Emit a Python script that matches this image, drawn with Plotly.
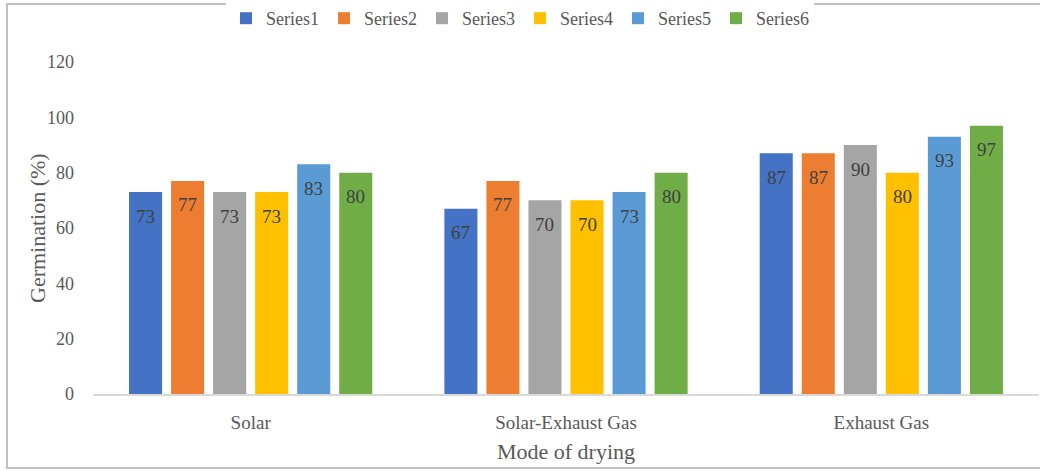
import plotly.graph_objects as go

# Germination by drying mode, six series per mode
categories = ["Solar", "Solar-Exhaust Gas", "Exhaust Gas"]
series_names = ["Series1", "Series2", "Series3", "Series4", "Series5", "Series6"]
series1 = [73, 67, 87]
series2 = [77, 77, 87]
series3 = [73, 70, 90]
series4 = [73, 70, 80]
series5 = [83, 73, 93]
series6 = [80, 80, 97]
series_values = [series1, series2, series3, series4, series5, series6]
y_ticks = [0, 20, 40, 60, 80, 100, 120]

colors = ["#4472C4", "#ED7D31", "#A5A5A5", "#FFC000", "#5B9BD5", "#70AD47"]

W, H = 1040, 471
margin = dict(l=93, r=1, t=62, b=77)
bargap = 0.2
font_family = "Liberation Serif"

fig = go.Figure()
for name, vals, col in zip(series_names, series_values, colors):
    fig.add_trace(go.Bar(
        x=categories, y=vals, name=name,
        marker=dict(color=col, line=dict(width=0)),
    ))

# value labels just inside the top of each bar
plot_w = W - margin["l"] - margin["r"]
plot_h = H - margin["t"] - margin["b"]
slot = plot_w / len(categories) * (1 - bargap) / len(series_values)
n = len(series_values)
for i, vals in enumerate(series_values):
    for cat, v in zip(categories, vals):
        fig.add_annotation(
            x=cat, y=v, text=str(v), showarrow=False,
            xshift=(i - (n - 1) / 2) * slot, yshift=-24,
            font=dict(family=font_family, size=19, color="#404040"),
        )

# y-axis title placed as a rotated annotation
fig.add_annotation(
    text="Germination (%)", xref="paper", yref="paper",
    x=(37 - margin["l"]) / plot_w, y=(H - margin["b"] - 228) / plot_h,
    textangle=-90, showarrow=False, xanchor="center", yanchor="middle",
    font=dict(family=font_family, size=22, color="#595959"),
)

# outer chart frame (open on the right)
fig.add_shape(type="rect", xref="paper", yref="paper",
              x0=(7 - margin["l"]) / plot_w, x1=(1050 - margin["l"]) / plot_w,
              y0=-(468 - (H - margin["b"])) / plot_h,
              y1=1 + (margin["t"] - 4) / plot_h,
              line=dict(color="#C0C0C0", width=2), layer="below")

fig.update_layout(
    width=W, height=H, margin=margin,
    paper_bgcolor="white", plot_bgcolor="white",
    barmode="group", bargap=bargap, bargroupgap=0.214,
    font=dict(family=font_family, color="#595959"),
    showlegend=True,
    legend=dict(orientation="h", x=0.5, xref="container", xanchor="center",
                y=1.0, yref="container", yanchor="top",
                font=dict(family=font_family, size=18, color="#595959"),
                itemwidth=30, traceorder="normal"),
    xaxis=dict(
        showline=True, linecolor="#D9D9D9", linewidth=1.5,
        ticks="", ticklabelstandoff=10,
        tickfont=dict(family=font_family, size=19, color="#595959"),
        title=dict(text="Mode of drying", font=dict(family=font_family, size=22, color="#595959"),
                   standoff=12),
    ),
    yaxis=dict(
        range=[0, 120], tickvals=y_ticks, showgrid=False, zeroline=False,
        showline=False, ticks="", ticklabelstandoff=18,
        tickfont=dict(family=font_family, size=18, color="#595959"),
    ),
)

fig.write_html("out.html")
